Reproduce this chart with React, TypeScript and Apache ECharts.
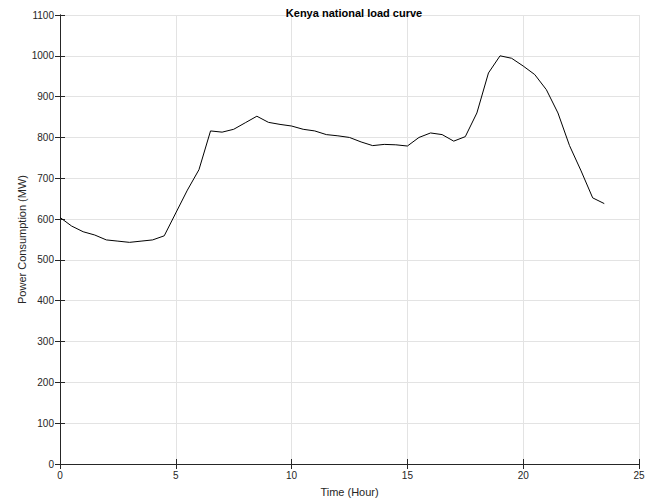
import React, { useEffect, useRef } from "react";
import * as echarts from "echarts";

const hours = [
  0, 0.5, 1, 1.5, 2, 2.5, 3, 3.5, 4, 4.5, 5, 5.5, 6, 6.5, 7, 7.5, 8, 8.5, 9, 9.5,
  10, 10.5, 11, 11.5, 12, 12.5, 13, 13.5, 14, 14.5, 15, 15.5, 16, 16.5, 17, 17.5,
  18, 18.5, 19, 19.5, 20, 20.5, 21, 21.5, 22, 22.5, 23, 23.5,
];
const loadMW = [
  604, 583, 569, 561, 549, 546, 543, 546, 549, 559, 615, 671, 721, 816, 813, 820,
  836, 852, 837, 832, 828, 820, 816, 807, 804, 800, 789, 780, 783, 782, 779, 800,
  811, 807, 791, 802, 860, 958, 1000, 994, 975, 954, 917, 860, 780, 718, 652, 638,
];
const title = "Kenya national load curve";
const xName = "Time (Hour)";
const yName = "Power Consumption (MW)";

export default function App() {
  const ref = useRef<HTMLDivElement>(null);
  useEffect(() => {
    if (!ref.current) return;
    const chart = echarts.init(ref.current, undefined, { renderer: "svg" });
    const font = "'Liberation Sans', Arial, Helvetica, sans-serif";
    const axisLine = { show: true, lineStyle: { color: "#262626", width: 1 } };
    const tick = { show: true, inside: true, length: 5, lineStyle: { color: "#262626" } };
    const label = {
      color: "#262626",
      fontSize: 10,
      fontFamily: font,
      formatter: (v: number) => String(v),
    };
    const split = { show: true, lineStyle: { color: "#e3e3e3", width: 1 } };
    chart.setOption({
      animation: false,
      backgroundColor: "#ffffff",
      title: {
        text: title,
        left: 349,
        textAlign: "center",
        top: 2,
        textStyle: { fontSize: 11, fontWeight: "bold", color: "#000", fontFamily: font },
      },
      grid: { left: 60, right: 24, top: 15, bottom: 32, containLabel: false },
      xAxis: [
        {
          type: "value",
          min: 0,
          max: 25,
          interval: 5,
          axisLine,
          axisTick: tick,
          axisLabel: { ...label, margin: 6 },
          splitLine: split,
          name: xName,
          nameLocation: "middle",
          nameGap: 22,
          nameMoveOverlap: false,
          nameTextStyle: { fontSize: 11, color: "#262626", fontFamily: font },
        },
        {
          type: "value",
          position: "top",
          min: 0,
          max: 25,
          interval: 5,
          axisLine,
          axisTick: tick,
          axisLabel: { show: false },
          splitLine: { show: false },
        },
      ],
      yAxis: [
        {
          type: "value",
          min: 0,
          max: 1100,
          interval: 100,
          axisLine,
          axisTick: tick,
          axisLabel: { ...label, margin: 6 },
          splitLine: split,
          name: yName,
          nameLocation: "middle",
          nameGap: 33,
          nameMoveOverlap: false,
          nameTextStyle: { fontSize: 11, color: "#262626", fontFamily: font },
        },
        {
          type: "value",
          position: "right",
          min: 0,
          max: 1100,
          interval: 100,
          axisLine,
          axisTick: tick,
          axisLabel: { show: false },
          splitLine: { show: false },
        },
      ],
      series: [
        {
          type: "line",
          data: hours.map((h, i) => [h, loadMW[i]]),
          showSymbol: false,
          symbol: "none",
          lineStyle: { color: "#000", width: 1 },
          xAxisIndex: 0,
          yAxisIndex: 0,
        },
      ],
    });
    return () => chart.dispose();
  }, []);
  return (
    <div
      ref={ref}
      style={{ position: "fixed", left: 0, top: 0, width: 663, height: 502, background: "#fff" }}
    />
  );
}
